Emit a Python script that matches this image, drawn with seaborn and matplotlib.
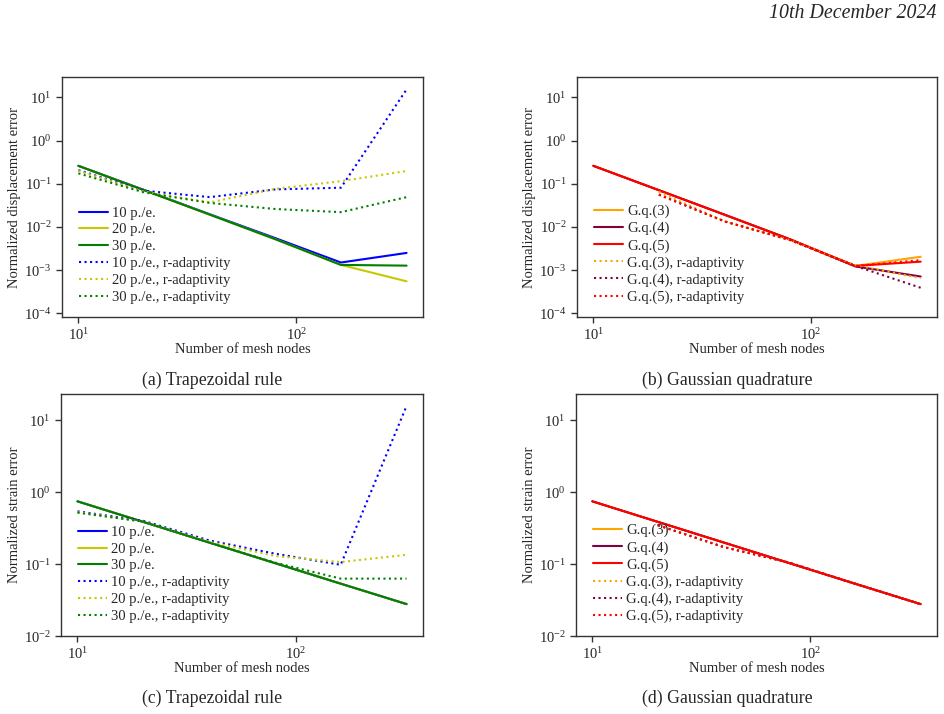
import numpy as np
import pandas as pd
import matplotlib
matplotlib.use('Agg')
import matplotlib.pyplot as plt
import seaborn as sns
from matplotlib.ticker import NullLocator, LogLocator

nodes = [10, 20, 40, 80, 160, 320]
nan = np.nan

# (a) displacement error, trapezoidal rule
disp_trap_10 = [0.26, 0.072, 0.0197, 0.0055, 0.0015, 0.0025]
disp_trap_20 = [0.26, 0.071, 0.0193, 0.0052, 0.00132, 0.00055]
disp_trap_30 = [0.26, 0.071, 0.0193, 0.0052, 0.00132, 0.00127]
disp_trap_10_r = [0.207, 0.069, 0.049, 0.074, 0.081, 15.3]
disp_trap_20_r = [0.20, 0.066, 0.037, 0.076, 0.115, 0.197]
disp_trap_30_r = [0.174, 0.063, 0.036, 0.026, 0.022, 0.049]

# (b) displacement error, gaussian quadrature
disp_gq3 = [0.26, 0.071, 0.0193, 0.0052, 0.00125, 0.00204]
disp_gq4 = [0.26, 0.071, 0.0193, 0.0052, 0.00122, 0.00071]
disp_gq5 = [0.26, 0.071, 0.0193, 0.0052, 0.00125, 0.00157]
disp_gq3_r = [nan, 0.065, 0.0135, 0.0050, 0.0013, 0.00065]
disp_gq4_r = [nan, 0.056, 0.0135, 0.0050, 0.00125, 0.00039]
disp_gq5_r = [nan, 0.056, 0.0135, 0.0050, 0.00125, 0.0017]

# (c) strain error, trapezoidal rule
strain_trap = [0.746, 0.386, 0.20, 0.1035, 0.0536, 0.0279]
strain_trap_10_r = [0.542, 0.40, 0.214, 0.14, 0.098, 15.7]
strain_trap_20_r = [0.53, 0.39, 0.205, 0.13, 0.107, 0.135]
strain_trap_30_r = [0.52, 0.39, 0.20, 0.105, 0.063, 0.063]

# (d) strain error, gaussian quadrature
strain_gq = [0.746, 0.386, 0.20, 0.1035, 0.0536, 0.0279]
strain_gq_r = [nan, 0.347, 0.173, 0.105, 0.0536, 0.0279]

trap_labels = ['10 p./e.', '20 p./e.', '30 p./e.']
gq_labels = ['G.q.(3)', 'G.q.(4)', 'G.q.(5)']
trap_colors = ['#0000ff', '#c8c800', '#008000']
gq_colors = ['#ffa500', '#800040', '#ff0000']

sns.set_style('ticks')
plt.rcParams['font.family'] = ['Liberation Serif', 'DejaVu Serif']
plt.rcParams['mathtext.fontset'] = 'stix'
plt.rcParams['axes.edgecolor'] = '#333333'

fig = plt.figure(figsize=(9.45, 7.14), dpi=100)
ax_a = fig.add_axes([0.0656, 0.556, 0.382, 0.336])
ax_b = fig.add_axes([0.6106, 0.556, 0.381, 0.336])
ax_c = fig.add_axes([0.0646, 0.109, 0.383, 0.339])
ax_d = fig.add_axes([0.6095, 0.109, 0.382, 0.339])


def draw(ax, solid, dotted, labels, colors, ylabel, ylim):
    for vals, lab, col in zip(solid, labels, colors):
        sns.lineplot(x=nodes, y=vals, ax=ax, color=col, lw=1.5, label=lab)
    for vals, lab, col in zip(dotted, labels, colors):
        sns.lineplot(x=nodes, y=vals, ax=ax, color=col, lw=1.5, ls=':',
                     label=lab + ', r-adaptivity')
    ax.set_xscale('log')
    ax.set_yscale('log')
    ax.set_ylim(*ylim)
    ax.xaxis.set_minor_locator(NullLocator())
    ax.yaxis.set_major_locator(LogLocator(base=10, numticks=20))
    ax.yaxis.set_minor_locator(NullLocator())
    ax.tick_params(labelsize=10.5, length=4, width=1, color='#333333')
    ax.set_xlabel('Number of mesh nodes', fontsize=10.5, labelpad=0)
    ax.set_ylabel(ylabel, fontsize=10.5, labelpad=2)
    for s in ax.spines.values():
        s.set_linewidth(1.0)
    ax.legend(loc='lower left', bbox_to_anchor=(0.01, 0.0), frameon=False,
              fontsize=10.5, handlelength=2.0, handletextpad=0.3,
              labelspacing=0.25)


draw(ax_a, [disp_trap_10, disp_trap_20, disp_trap_30],
     [disp_trap_10_r, disp_trap_20_r, disp_trap_30_r],
     trap_labels, trap_colors, 'Normalized displacement error', (8.2e-5, 29.5))
draw(ax_b, [disp_gq3, disp_gq4, disp_gq5],
     [disp_gq3_r, disp_gq4_r, disp_gq5_r],
     gq_labels, gq_colors, 'Normalized displacement error', (8.2e-5, 29.5))
draw(ax_c, [strain_trap, strain_trap, strain_trap],
     [strain_trap_10_r, strain_trap_20_r, strain_trap_30_r],
     trap_labels, trap_colors, 'Normalized strain error', (1e-2, 23))
draw(ax_d, [strain_gq, strain_gq, strain_gq],
     [strain_gq_r, strain_gq_r, strain_gq_r],
     gq_labels, gq_colors, 'Normalized strain error', (1e-2, 23))

fig.text(212 / 945, 1 - 380 / 714, '(a) Trapezoidal rule', fontsize=12.8,
         ha='center', va='center')
fig.text(727 / 945, 1 - 380 / 714, '(b) Gaussian quadrature', fontsize=12.8,
         ha='center', va='center')
fig.text(212 / 945, 1 - 698 / 714, '(c) Trapezoidal rule', fontsize=12.8,
         ha='center', va='center')
fig.text(727 / 945, 1 - 698 / 714, '(d) Gaussian quadrature', fontsize=12.8,
         ha='center', va='center')
fig.text(937 / 945, 1 - 13 / 714, '10th December 2024', fontsize=14.3,
         style='italic', ha='right', va='center')

fig.savefig('out.png', dpi=100)
